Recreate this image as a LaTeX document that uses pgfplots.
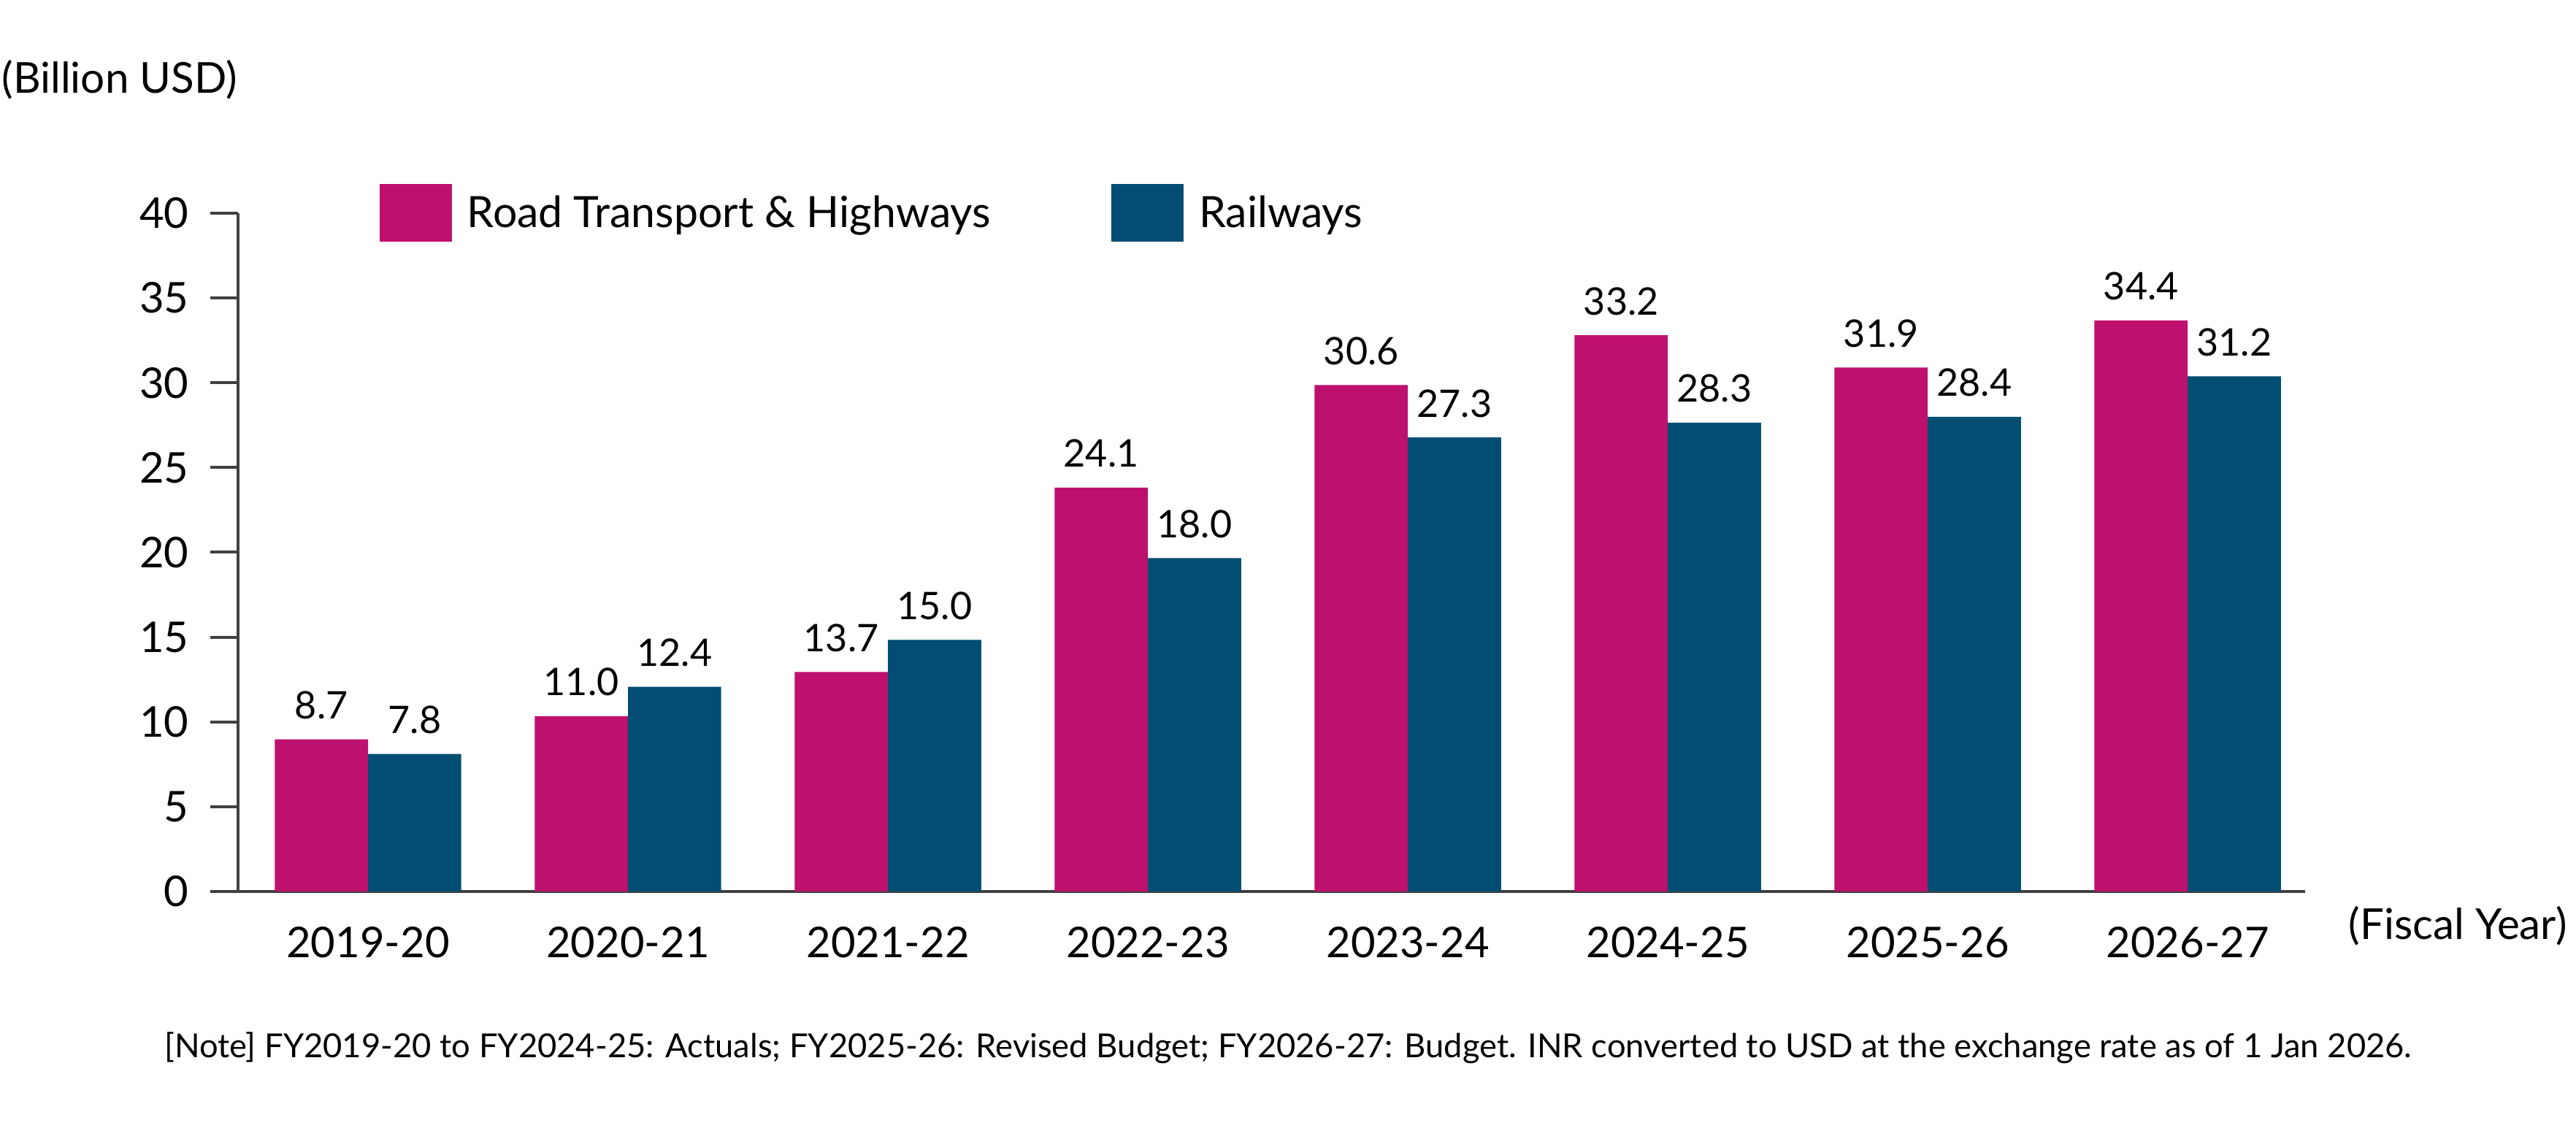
\documentclass[border=0pt]{standalone}
\usepackage{fontspec}
\setmainfont{Lato}
\usepackage{pgfplots}
\usepackage{pgfplotstable}
\pgfplotsset{compat=1.18}

\definecolor{roadpink}{HTML}{BE106E}
\definecolor{railblue}{HTML}{034D72}
\definecolor{axisgray}{HTML}{404040}

% bar heights as drawn; labels as printed
\pgfplotstableread{
x road  rail  roadlbl raillbl
0 8.97  8.11  8.7  7.8
1 10.34 12.07 11.0 12.4
2 12.94 14.84 13.7 15.0
3 23.82 19.66 24.1 18.0
4 29.86 26.78 30.6 27.3
5 32.80 27.65 33.2 28.3
6 30.90 27.99 31.9 28.4
7 33.67 30.38 34.4 31.2
}\datatable

\begin{document}
\begin{tikzpicture}
\useasboundingbox (0mm,0mm) rectangle (352.8mm,156mm);
\begin{axis}[
    at={(32.6mm,33.9mm)}, anchor=south west,
    scale only axis,
    width=283.1mm, height=92.9mm,
    style={/pgf/number format/assume math mode=true},
    ybar=0pt, bar width=12.77mm,
    xmin=-0.5, xmax=7.452,
    ymin=0, ymax=40,
    ytick={0,5,...,40},
    xtick=data,
    xticklabels={2019-20,2020-21,2021-22,2022-23,2023-24,2024-25,2025-26,2026-27},
    axis x line*=bottom, axis y line*=left,
    axis line style={axisgray, line width=0.32mm},
    tick align=outside,
    major tick length=3.8mm,
    ytick style={axisgray, line width=0.4mm},
    xtick style={draw=none},
    tick label style={font=\fontsize{16.5}{19}\selectfont},
    yticklabel style={anchor=east, inner sep=0pt, xshift=-2.9mm},
    xticklabel style={anchor=north, inner sep=0pt, yshift=-1mm},
    point meta=explicit symbolic,
    nodes near coords={\pgfplotspointmeta},
    every node near coord/.append style={font=\fontsize{14.8}{17}\selectfont,
        anchor=base, inner sep=0pt, yshift=2.8mm, text=black},
    legend columns=2,
    legend style={draw=none, fill=none, inner sep=0pt, outer sep=0pt,
        at={(0.0685,1)}, anchor=west,
        font=\fontsize{16.8}{19}\selectfont,
        nodes={inner sep=0pt},
        /tikz/every odd column/.style={column sep=2.1mm},
        /tikz/every even column/.style={column sep=16.5mm}},
    legend image code/.code={\fill[#1] (0mm,-3.95mm) rectangle (9.9mm,3.95mm);},
]
\addplot[fill=roadpink, draw=none] table[x=x, y=road, meta=roadlbl] {\datatable};
\addplot[fill=railblue, draw=none] table[x=x, y=rail, meta=raillbl] {\datatable};
\legend{Road Transport \& Highways, Railways}
\end{axis}
\node[anchor=base west, inner sep=0pt, font=\fontsize{16.6}{19}\selectfont]
    at (0.2mm,143.2mm) {(Billion USD)};
\node[anchor=base west, inner sep=0pt, font=\fontsize{16.6}{19}\selectfont]
    at (321.6mm,27.3mm) {(Fiscal Year)};
\node[anchor=base, inner sep=0pt, font=\fontsize{12.9}{15}\selectfont]
    at (176.4mm,11.1mm) {[Note] FY2019-20 to FY2024-25: Actuals; FY2025-26: Revised Budget; FY2026-27: Budget. INR converted to USD at the exchange rate as of 1 Jan 2026.};
\end{tikzpicture}
\end{document}
